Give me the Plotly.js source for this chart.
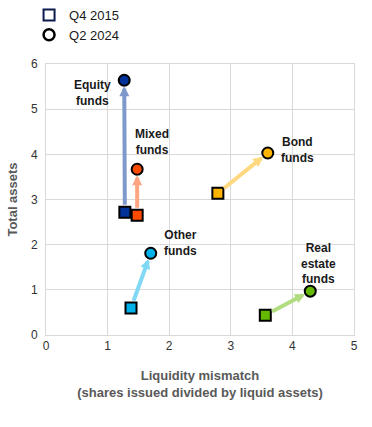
<!DOCTYPE html>
<html><head><meta charset="utf-8">
<script src="https://cdn.plot.ly/plotly-3.0.1.min.js"></script>
<style>html,body{margin:0;padding:0;background:#fff;}</style>
</head><body>
<div id="chart" style="width:372px;height:427px;"></div>
<script>
// Data
const funds = ["Equity<br>funds", "Mixed<br>funds", "Bond<br>funds", "Other<br>funds", "Real<br>estate<br>funds"];
const q4_2015_x = [1.28, 1.48, 2.79, 1.38, 3.56];
const q4_2015_y = [2.72, 2.65, 3.14, 0.60, 0.44];
const q2_2024_x = [1.27, 1.48, 3.60, 1.70, 4.29];
const q2_2024_y = [5.64, 3.67, 4.03, 1.81, 0.97];
const seriesNames = ["Q4 2015", "Q2 2024"];
const xTicks = [0, 1, 2, 3, 4, 5];
const yTicks = [0, 1, 2, 3, 4, 5, 6];

// Styles
const markerColors = ["#003299", "#ff4b00", "#ffb400", "#00b1ea", "#65b800"];
const arrowColors = ["#7f99cc", "#ffa582", "#ffd980", "#80d8f5", "#b2dc80"];
const labelPos = [[0.76, 5.35], [1.72, 4.28], [4.09, 4.09], [2.18, 2.04], [4.42, 1.59]];
const FONT = "Liberation Sans, Arial, sans-serif";

const traces = [
  {x: q4_2015_x, y: q4_2015_y, mode: "markers", type: "scatter", showlegend: false, hoverinfo: "skip",
   marker: {symbol: "square", size: 11, color: markerColors, line: {color: "#000", width: 2}}},
  {x: q2_2024_x, y: q2_2024_y, mode: "markers", type: "scatter", showlegend: false, hoverinfo: "skip",
   marker: {symbol: "circle", size: 11, color: markerColors, line: {color: "#000", width: 2}}},
  {x: [null], y: [null], name: seriesNames[0], mode: "markers", type: "scatter",
   marker: {symbol: "square", size: 11, color: "#fff", line: {color: "#0b1b4d", width: 2}}},
  {x: [null], y: [null], name: seriesNames[1], mode: "markers", type: "scatter",
   marker: {symbol: "circle", size: 11, color: "#fff", line: {color: "#000", width: 2.5}}}
];

const annotations = [];
for (let i = 0; i < funds.length; i++) {
  annotations.push({
    x: q2_2024_x[i], y: q2_2024_y[i], ax: q4_2015_x[i], ay: q4_2015_y[i],
    xref: "x", yref: "y", axref: "x", ayref: "y", text: "", showarrow: true,
    arrowcolor: arrowColors[i], arrowwidth: 4, arrowhead: 2, arrowsize: 0.5,
    standoff: 6, startstandoff: 6
  });
}
for (let i = 0; i < funds.length; i++) {
  annotations.push({
    x: labelPos[i][0], y: labelPos[i][1], xref: "x", yref: "y", text: "<b>" + funds[i] + "</b>",
    showarrow: false, align: "center",
    font: {family: FONT, size: 12, color: "#1a1a1a"}
  });
}

const axisCommon = {
  showgrid: true, gridcolor: "#d9d9d9", gridwidth: 1, zeroline: false,
  showline: true, linecolor: "#d9d9d9", linewidth: 1, mirror: true, ticks: "",
  tickfont: {family: FONT, size: 12, color: "#333"}
};

const layout = {
  width: 372, height: 427,
  margin: {l: 46, r: 18, t: 64, b: 92},
  paper_bgcolor: "#fff", plot_bgcolor: "#fff",
  font: {family: FONT, size: 12, color: "#333"},
  xaxis: Object.assign({}, axisCommon, {range: [0, 5], tickvals: xTicks,
    title: {text: "<b>Liquidity mismatch<br>(shares issued divided by liquid assets)</b>",
      font: {family: FONT, size: 13, color: "#595959"}, standoff: 18}}),
  yaxis: Object.assign({}, axisCommon, {range: [0, 6], tickvals: yTicks, ticklabelstandoff: 5,
    title: {text: "<b>Total assets</b>",
      font: {family: FONT, size: 13, color: "#595959"}, standoff: 10}}),
  legend: {x: -0.055, xanchor: "left", y: 1, yanchor: "top", yref: "container",
    bgcolor: "rgba(0,0,0,0)", itemwidth: 30,
    font: {family: FONT, size: 13, color: "#1a1a1a"}},
  showlegend: true,
  annotations: annotations
};

Plotly.newPlot("chart", traces, layout, {displayModeBar: false, staticPlot: true});
</script>
</body></html>
